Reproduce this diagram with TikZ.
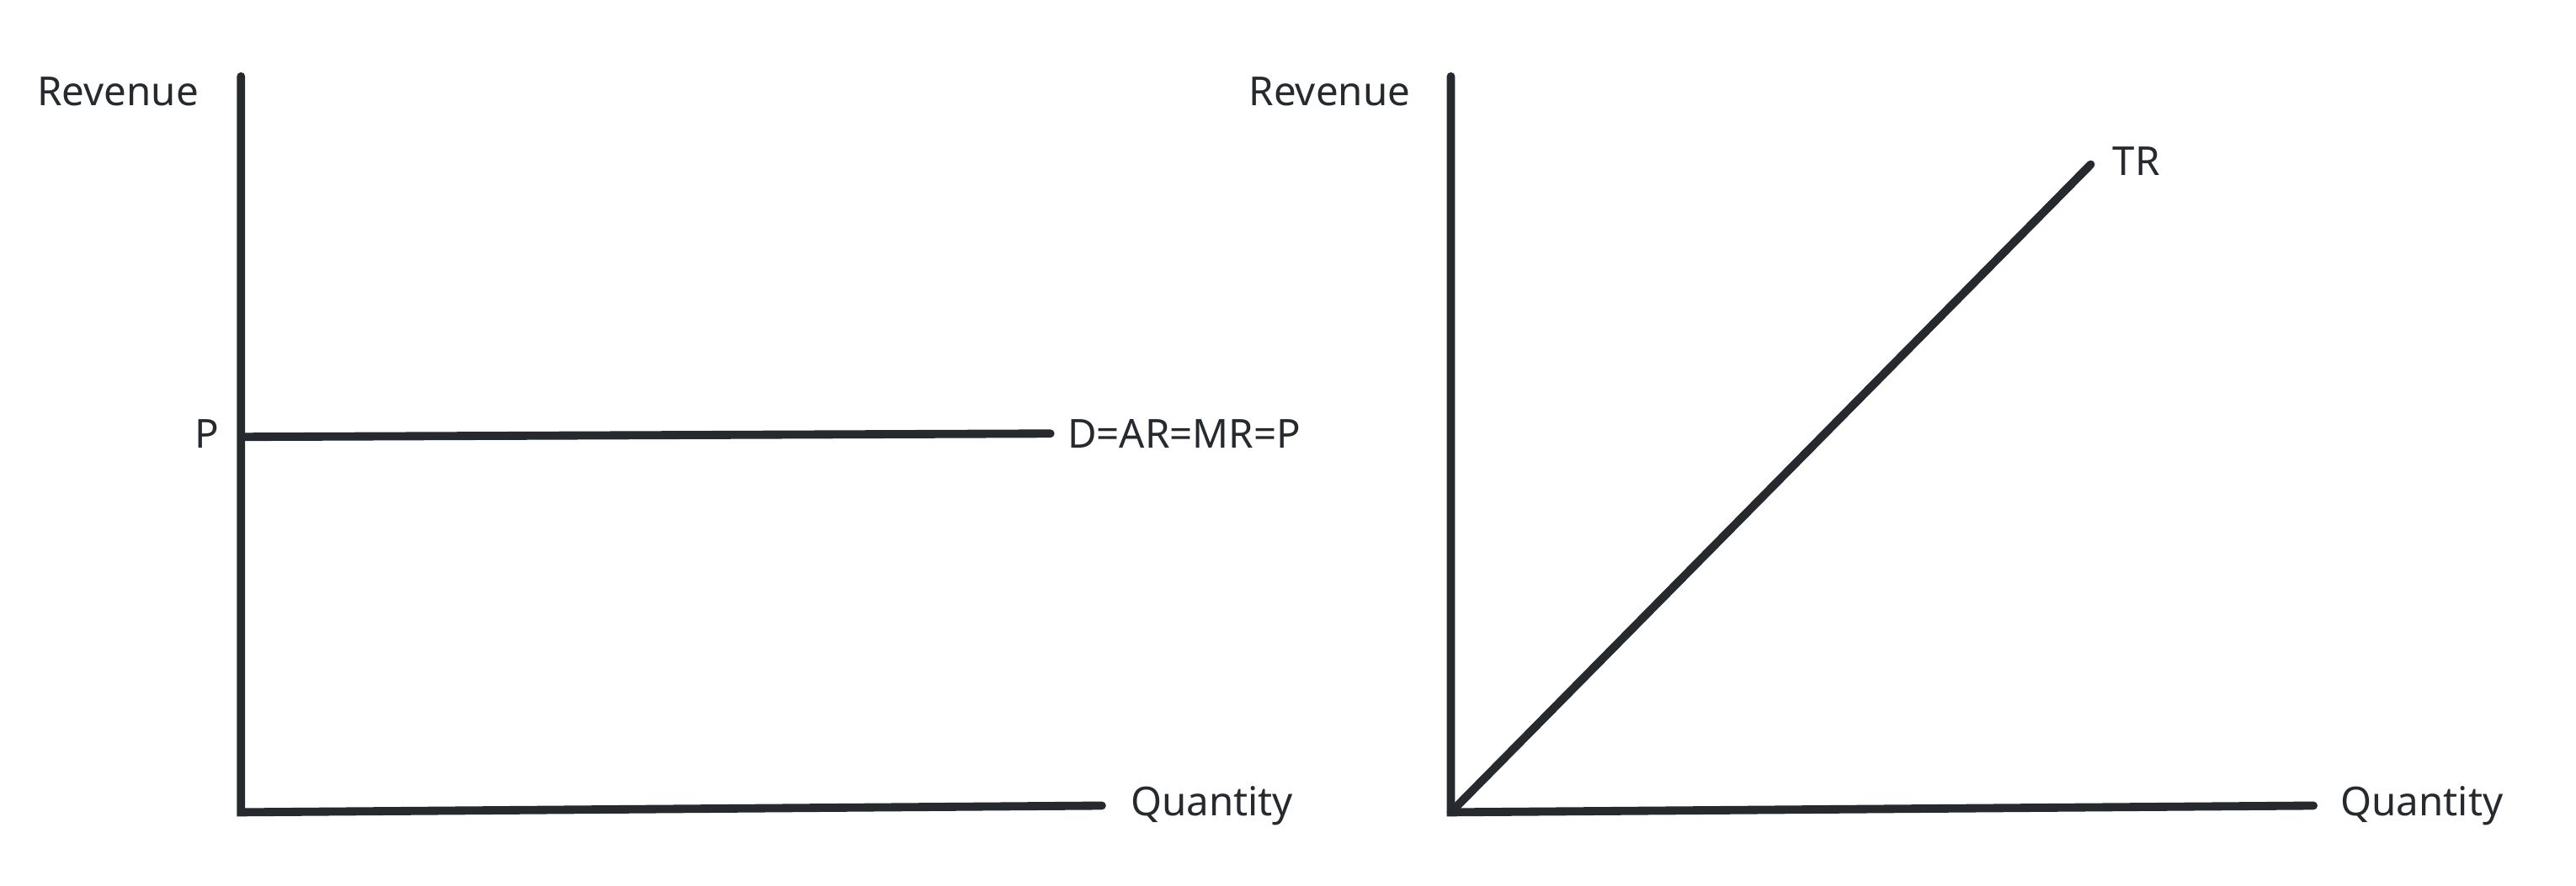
\documentclass[tikz,border=0pt]{standalone}
\usepackage{fontspec}
\setmainfont{Noto Sans}
\definecolor{ink}{HTML}{26292E}
\begin{document}
\begin{tikzpicture}[x=0.01974cm,y=-0.01974cm,
  ln/.style={draw=ink,line width=2.8pt,line cap=round},
  lab/.style={text=ink,font=\fontsize{13.5}{16}\selectfont,inner sep=0pt}]
\useasboundingbox (0,0) rectangle (1550,533);
% left
\coordinate (ltop) at (145,46);
\coordinate (lo) at (145,489);
\coordinate (lx) at (663,485);
\coordinate (p1) at (147,263);
\coordinate (p2) at (632,261);
\draw[ln] (ltop) -- (lo) -- (lx);
\draw[ln] (p1) -- (p2);
\node[lab] (lrev) at (71,55) {Revenue};
\node[lab,anchor=east] (lp) at (132,261) {P};
\node[lab,anchor=west] (ld) at (642,261) {D=AR=MR=P};
\node[lab,anchor=west] (lq) at (680,485) {Quantity};
% right
\coordinate (rtop) at (873,46);
\coordinate (ro) at (873,489);
\coordinate (rx) at (1392,485);
\coordinate (tr) at (1258,99);
\draw[ln] (rtop) -- (ro) -- (rx);
\draw[ln] (ro) -- (tr);
\node[lab] (rrev) at (800,55) {Revenue};
\node[lab,anchor=west] (rtr) at (1271,97) {TR};
\node[lab,anchor=west] (rq) at (1408,485) {Quantity};
\end{tikzpicture}
\end{document}
